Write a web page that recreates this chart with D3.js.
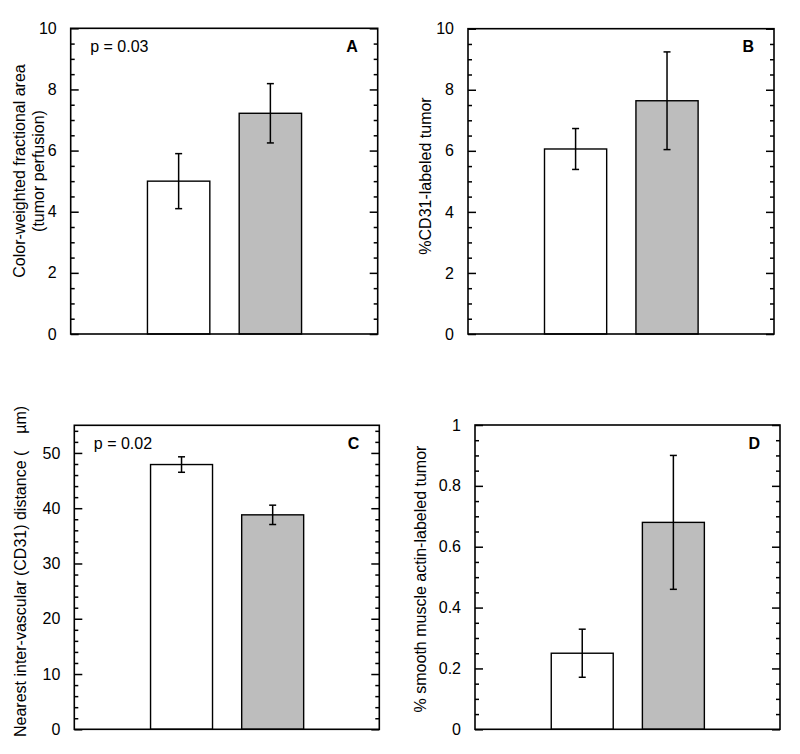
<!DOCTYPE html>
<html>
<head>
<meta charset="utf-8">
<script src="https://cdn.jsdelivr.net/npm/d3@7"></script>
<style>
  html, body { margin: 0; padding: 0; background: #fff; }
  svg { display: block; }
  text { font-family: "Liberation Sans", Arial, Helvetica, sans-serif; fill: #000; }
</style>
</head>
<body>
<svg id="chart" width="800" height="754"></svg>
<script>
// ---- data ----
const groups = ["Control", "Treated"];
const barColors = ["#ffffff", "#bdbdbd"];

const perfusionMean = [5.0, 7.22];
const perfusionErr  = [0.9, 0.97];
const perfusionTicks = [0, 2, 4, 6, 8, 10];

const cd31Mean = [6.06, 7.64];
const cd31Err  = [0.67, 1.6];
const cd31Ticks = [0, 2, 4, 6, 8, 10];

const distanceMean = [47.9, 38.8];
const distanceErr  = [1.4, 1.75];
const distanceTicks = [0, 10, 20, 30, 40, 50];

const smaMean = [0.25, 0.68];
const smaErr  = [0.079, 0.22];
const smaTicks = [0, 0.2, 0.4, 0.6, 0.8, 1];

// ---- layout ----
const panels = [
  { id: "A", mean: perfusionMean, err: perfusionErr, ticks: perfusionTicks, max: 10, minor: 0.5,
    box: { x: 70.7, y: 28.3, w: 307, h: 305.7 },
    title: ["Color-weighted fractional area", "(tumor perfusion)"], titleX: [25, 43.5],
    titleY: 171, p: "p = 0.03", fmt: d => d },
  { id: "B", mean: cd31Mean, err: cd31Err, ticks: cd31Ticks, max: 10, minor: 0.5,
    box: { x: 468, y: 28.7, w: 306, h: 305.3 },
    title: ["%CD31-labeled tumor"], titleX: [431], titleY: 176, p: null, fmt: d => d },
  { id: "C", mean: distanceMean, err: distanceErr, ticks: distanceTicks, max: 55, minor: 2,
    box: { x: 74.3, y: 425.3, w: 305, h: 304 },
    title: null, p: "p = 0.02", fmt: d => d },
  { id: "D", mean: smaMean, err: smaErr, ticks: smaTicks, max: 1, minor: 0.05,
    box: { x: 475, y: 425, w: 305, h: 304.3 },
    title: ["% smooth muscle actin-labeled tumor"], titleX: [426], titleY: 579, p: null,
    fmt: d => d === 0 ? "0" : d === 1 ? "1" : d3.format(".1f")(d) }
];

const svg = d3.select("#chart");

panels.forEach(P => {
  const b = P.box;
  const g = svg.append("g").attr("transform", `translate(${b.x},${b.y})`);
  const y = d3.scaleLinear().domain([0, P.max]).range([b.h, 0]);
  const x = d3.scaleBand().domain(groups).range([b.w * 0.25, b.w * 0.752]).paddingInner(0.32);

  // minor ticks
  const nMinor = Math.round(P.max / P.minor);
  const minorVals = d3.range(0, nMinor + 1).map(i => +(i * P.minor).toFixed(6));
  const majorSet = new Set(P.ticks.map(t => +t.toFixed(6)));
  const minors = minorVals.filter(v => !majorSet.has(v) && v > 0 && v < P.max);

  // bars
  g.selectAll("rect.bar").data(groups).enter().append("rect")
    .attr("x", d => x(d))
    .attr("width", x.bandwidth())
    .attr("y", (d, i) => y(P.mean[i]))
    .attr("height", (d, i) => b.h - y(P.mean[i]))
    .attr("fill", (d, i) => barColors[i])
    .attr("stroke", "#000").attr("stroke-width", 1.4);

  // error bars
  groups.forEach((d, i) => {
    const cx = x(d) + x.bandwidth() / 2;
    const y1 = y(P.mean[i] + P.err[i]), y0 = y(P.mean[i] - P.err[i]);
    const e = g.append("g").attr("stroke", "#000").attr("stroke-width", 1.5);
    e.append("line").attr("x1", cx).attr("x2", cx).attr("y1", y1).attr("y2", y0);
    e.append("line").attr("x1", cx - 3.5).attr("x2", cx + 3.5).attr("y1", y1).attr("y2", y1);
    e.append("line").attr("x1", cx - 3.5).attr("x2", cx + 3.5).attr("y1", y0).attr("y2", y0);
  });

  // left axis (inside ticks)
  const leftAxis = d3.axisLeft(y).tickValues(P.ticks).tickSize(-8).tickPadding(14).tickFormat(P.fmt);
  const la = g.append("g").call(leftAxis);
  la.select(".domain").remove();
  la.selectAll(".tick line").attr("stroke-width", 1.5);
  la.selectAll("text").attr("font-size", 16).attr("fill", "#000");

  const laMinor = d3.axisLeft(y).tickValues(minors).tickSize(-4).tickFormat("");
  const lm = g.append("g").call(laMinor);
  lm.select(".domain").remove();
  lm.selectAll(".tick line").attr("stroke-width", 1.5);

  // right axis (inside ticks)
  const ra = g.append("g").attr("transform", `translate(${b.w},0)`)
    .call(d3.axisRight(y).tickValues(P.ticks).tickSize(-8).tickFormat(""));
  ra.select(".domain").remove();
  ra.selectAll(".tick line").attr("stroke-width", 1.5);
  const rm = g.append("g").attr("transform", `translate(${b.w},0)`)
    .call(d3.axisRight(y).tickValues(minors).tickSize(-4).tickFormat(""));
  rm.select(".domain").remove();
  rm.selectAll(".tick line").attr("stroke-width", 1.5);

  // frame
  g.append("rect").attr("x", 0).attr("y", 0).attr("width", b.w).attr("height", b.h)
    .attr("fill", "none").attr("stroke", "#000").attr("stroke-width", 1.6);

  // panel letter
  g.append("text").attr("x", b.w - 20).attr("y", 23.5).attr("text-anchor", "end")
    .attr("font-size", 16).attr("font-weight", "bold").text(P.id);

  // p-value
  if (P.p) {
    g.append("text").attr("x", 19.5).attr("y", 23.5).attr("font-size", 16).text(P.p);
  }

  // axis title
  if (P.title) {
    P.title.forEach((t, k) => {
      svg.append("text")
        .attr("transform", `translate(${P.titleX[k]},${P.titleY}) rotate(-90)`)
        .attr("text-anchor", "middle").attr("font-size", 16).text(t);
    });
  }
});

// Panel C title with gap before µm
const ct = svg.append("text")
  .attr("transform", "translate(25.5,737) rotate(-90)")
  .attr("text-anchor", "start").attr("font-size", 16);
ct.append("tspan").text("Nearest inter-vascular (CD31) distance (");
ct.append("tspan").attr("dx", 17).text("\u00b5m)");
</script>
</body>
</html>
